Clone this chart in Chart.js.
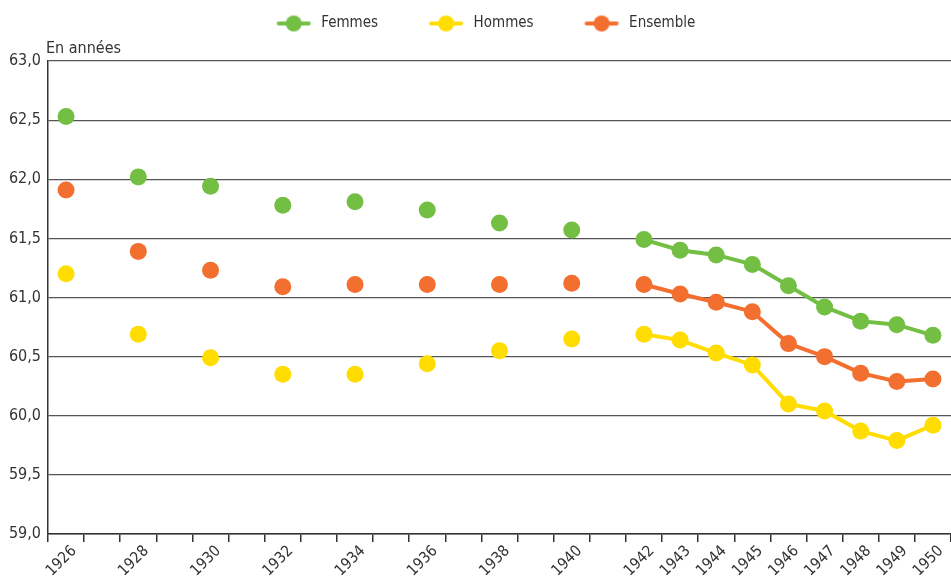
<!DOCTYPE html>
<html>
<head>
<meta charset="utf-8">
<script src="https://cdn.jsdelivr.net/npm/chart.js@4/dist/chart.umd.min.js"></script>
<style>
  html, body { margin: 0; padding: 0; background: #fff; }
  #wrap { width: 951px; height: 576px; }
</style>
</head>
<body>
<div id="wrap"><canvas id="chart"></canvas></div>
<script>
const FONT = "'Liberation Sans Narrow', 'DejaVu Sans Condensed', 'Open Sans', sans-serif";

// one category per year, labels shown only for some
const years = [1926, 1927, 1928, 1929, 1930, 1931, 1932, 1933, 1934, 1935, 1936, 1937,
  1938, 1939, 1940, 1941, 1942, 1943, 1944, 1945, 1946, 1947, 1948, 1949, 1950];
const shownYears = [1926, 1928, 1930, 1932, 1934, 1936, 1938, 1940,
  1942, 1943, 1944, 1945, 1946, 1947, 1948, 1949, 1950];

const femmes = [62.53, null, 62.02, null, 61.94, null, 61.78, null, 61.81, null, 61.74, null,
  61.63, null, 61.57, null, 61.49, 61.40, 61.36, 61.28, 61.10, 60.92, 60.80, 60.77, 60.68];
const hommes = [61.20, null, 60.69, null, 60.49, null, 60.35, null, 60.35, null, 60.44, null,
  60.55, null, 60.65, null, 60.69, 60.64, 60.53, 60.43, 60.10, 60.04, 59.87, 59.79, 59.92];
const ensemble = [61.91, null, 61.39, null, 61.23, null, 61.09, null, 61.11, null, 61.11, null,
  61.11, null, 61.12, null, 61.11, 61.03, 60.96, 60.88, 60.61, 60.50, 60.36, 60.29, 60.31];

const yMin = 59, yMax = 63, yStep = 0.5;
const yTitle = 'En années';

const GREEN = '#72bf44', YELLOW = '#ffdd00', ORANGE = '#f26f2f';

// legend symbol: line with a dot
function legendSymbol(color) {
  const c = document.createElement('canvas');
  const blankLeft = 21, w = 34, blankRight = 3;
  c.width = blankLeft + w + blankRight;
  c.height = 18;
  const g = c.getContext('2d');
  g.strokeStyle = color;
  g.lineWidth = 4;
  g.lineCap = 'round';
  g.beginPath();
  g.moveTo(blankLeft + 2, 9);
  g.lineTo(blankLeft + w - 2, 9);
  g.stroke();
  g.fillStyle = color;
  g.beginPath();
  g.arc(blankLeft + w / 2, 9, 8, 0, Math.PI * 2);
  g.fill();
  return c;
}

function series(label, data, color) {
  return {
    label,
    data,
    borderColor: color,
    backgroundColor: color,
    borderWidth: 4,
    pointRadius: 8.5,
    pointHoverRadius: 8.5,
    pointBorderWidth: 0,
    pointBackgroundColor: color,
    spanGaps: false,
    tension: 0
  };
}

const yTitlePlugin = {
  id: 'yTitle',
  afterDraw(chart) {
    const {ctx, chartArea} = chart;
    ctx.save();
    ctx.font = '16px ' + FONT;
    ctx.fillStyle = '#333';
    ctx.textAlign = 'left';
    ctx.textBaseline = 'alphabetic';
    ctx.fillText(yTitle, chartArea.left - 2, chartArea.top - 8);
    ctx.restore();
  }
};

const legendSpace = {
  id: 'legendSpace',
  beforeInit(chart) {
    const fit = chart.legend.fit;
    chart.legend.fit = function () {
      fit.call(this);
      this.height += 20;
    };
  }
};

new Chart(document.getElementById('chart'), {
  type: 'line',
  data: {
    labels: years.map(String),
    datasets: [
      series('Femmes', femmes, GREEN),
      series('Hommes', hommes, YELLOW),
      series('Ensemble', ensemble, ORANGE)
    ]
  },
  options: {
    responsive: true,
    maintainAspectRatio: false,
    animation: false,
    layout: { autoPadding: false, padding: { top: -14, left: 0, right: 0, bottom: 0 } },
    plugins: {
      tooltip: { enabled: false },
      legend: {
        position: 'top',
        align: 'center',
        labels: {
          usePointStyle: true,
          pointStyleWidth: 58,
          padding: 30,
          color: '#333',
          font: { family: FONT, size: 15 },
          generateLabels(chart) {
            return chart.data.datasets.map((ds, i) => ({
              text: ds.label,
              pointStyle: legendSymbol(ds.borderColor),
              fillStyle: ds.borderColor,
              strokeStyle: ds.borderColor,
              lineWidth: 0,
              fontColor: '#333',
              datasetIndex: i
            }));
          }
        }
      }
    },
    scales: {
      x: {
        type: 'category',
        offset: true,
        afterFit(scale) {
          scale.height = 42;
          scale.paddingLeft = 0;
          scale.paddingRight = 0;
        },
        grid: {
          offset: true,
          drawOnChartArea: false,
          drawTicks: true,
          tickLength: 8,
          color: '#333',
          lineWidth: 1.5
        },
        border: { display: true, color: '#333', width: 1.5 },
        ticks: {
          autoSkip: false,
          maxRotation: 45,
          minRotation: 45,
          labelOffset: 8,
          padding: 0,
          color: '#333',
          font: { family: FONT, size: 15.5 },
          callback(value, index) {
            const y = years[index];
            return shownYears.includes(y) ? String(y) : '';
          }
        }
      },
      y: {
        min: yMin,
        max: yMax,
        afterFit(scale) { scale.width = 48; },
        grid: {
          color: '#555',
          lineWidth: 1.2,
          drawTicks: false
        },
        border: { display: true, color: '#333', width: 1.5 },
        ticks: {
          stepSize: yStep,
          padding: 7,
          color: '#333',
          font: { family: FONT, size: 16 },
          callback(v) { return v.toFixed(1).replace('.', ','); }
        }
      }
    }
  },
  plugins: [yTitlePlugin, legendSpace]
});
</script>
</body>
</html>
